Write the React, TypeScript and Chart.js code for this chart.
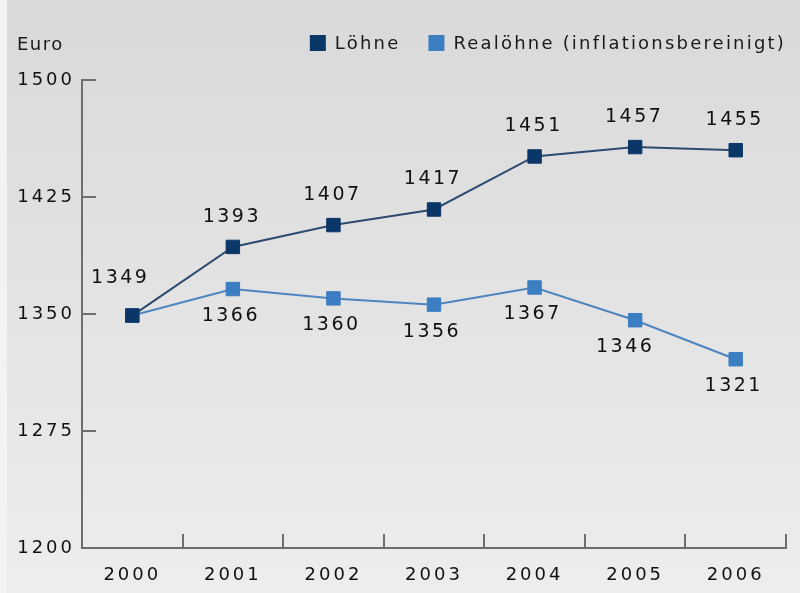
import React, { useEffect, useRef } from 'react';
import { Chart, registerables } from 'chart.js';

Chart.register(...registerables);

const years = ['2000', '2001', '2002', '2003', '2004', '2005', '2006'];
const loehne = [1349, 1393, 1407, 1417, 1451, 1457, 1455];
const realLoehne = [1349, 1366, 1360, 1356, 1367, 1346, 1321];
const yTickValues = [1200, 1275, 1350, 1425, 1500];
const seriesNames = ['Löhne', 'Realöhne (inflationsbereinigt)'];
const unitLabel = 'Euro';

const DARK = '#0b3668';
const LIGHT = '#3c7ec2';
const FONT = '"DejaVu Sans", Verdana, sans-serif';

const spacingPlugin = {
  id: 'spacing',
  beforeLayout(chart: any) { chart.ctx.letterSpacing = '3px'; },
  beforeDraw(chart: any) { chart.ctx.letterSpacing = '3px'; },
};

const bgPlugin = {
  id: 'bg',
  beforeDraw(chart: any) {
    const { ctx, width, height } = chart;
    ctx.save();
    const g = ctx.createLinearGradient(0, 0, 0, height);
    g.addColorStop(0, '#d9d9d9');
    g.addColorStop(1, '#ededed');
    ctx.fillStyle = g;
    ctx.fillRect(0, 0, width, height);
    ctx.fillStyle = '#f3f3f3';
    ctx.fillRect(0, 0, 7, height);
    ctx.restore();
  },
};

const legendPlugin = {
  id: 'customLegend',
  afterDraw(chart: any) {
    const { ctx, chartArea } = chart;
    ctx.save();
    ctx.font = '18px ' + FONT;
    ctx.letterSpacing = '2.2px';
    ctx.textBaseline = 'middle';
    ctx.textAlign = 'left';
    const colors = [DARK, LIGHT];
    const y = 43;
    let x = chartArea.right;
    for (let i = seriesNames.length - 1; i >= 0; i--) {
      const w = ctx.measureText(seriesNames[i]).width;
      x -= w;
      ctx.fillStyle = '#1a1a1a';
      ctx.fillText(seriesNames[i], x, y + 1);
      x -= 9 + 16;
      ctx.fillStyle = colors[i];
      ctx.fillRect(x, y - 8, 16, 16);
      x -= 28;
    }
    ctx.letterSpacing = '1.5px';
    ctx.fillStyle = '#1a1a1a';
    ctx.fillText(unitLabel, 17, 45);
    ctx.restore();
  },
};

const labelOffsets = [
  { dx: -1, dy: -30 },
  { dx: -2, dy: 27 },
];

const dataLabelPlugin = {
  id: 'dataLabels',
  afterDatasetsDraw(chart: any) {
    const { ctx } = chart;
    ctx.save();
    ctx.font = '19px ' + FONT;
    ctx.letterSpacing = '2.5px';
    ctx.fillStyle = '#111';
    ctx.textAlign = 'center';
    ctx.textBaseline = 'middle';
    chart.data.datasets.forEach((ds: any, di: number) => {
      const meta = chart.getDatasetMeta(di);
      meta.data.forEach((pt: any, i: number) => {
        if (di === 1 && i === 0) return;
        let dx = labelOffsets[di].dx;
        let dy = labelOffsets[di].dy;
        if (di === 0 && i === 0) { dx = -12; dy = -37; }
        if (di === 1 && i === 5) { dx = -10; }
        ctx.fillText(String(ds.data[i]), pt.x + dx, pt.y + dy);
      });
    });
    ctx.restore();
  },
};

export default function App() {
  const ref = useRef<HTMLCanvasElement>(null);
  useEffect(() => {
    document.body.style.margin = '0';
    const canvas = ref.current!;
    const tickFont = { family: FONT, size: 18 };
    const chart = new Chart(canvas, {
      type: 'line',
      data: {
        labels: years,
        datasets: [
          {
            label: seriesNames[0],
            data: loehne,
            borderColor: '#2d4b70',
            backgroundColor: DARK,
            pointBackgroundColor: DARK,
            pointBorderColor: DARK,
            borderWidth: 2,
            pointStyle: 'rect',
            pointRadius: 9.5,
            pointBorderWidth: 1,
            tension: 0,
          },
          {
            label: seriesNames[1],
            data: realLoehne,
            borderColor: '#4f85bf',
            backgroundColor: LIGHT,
            pointBackgroundColor: LIGHT,
            pointBorderColor: LIGHT,
            borderWidth: 2,
            pointStyle: 'rect',
            pointRadius: 9.5,
            pointBorderWidth: 1,
            tension: 0,
          },
        ],
      },
      options: {
        animation: false,
        responsive: false,
        devicePixelRatio: 1,
        layout: { padding: { top: 80, right: 14, left: 0, bottom: 0 } },
        plugins: {
          legend: { display: false },
          tooltip: { enabled: false },
          title: { display: false },
        },
        scales: {
          x: {
            offset: true,
            grid: {
              offset: true,
              drawOnChartArea: false,
              drawTicks: true,
              tickLength: -14,
              color: '#6e6e6e',
              lineWidth: 2,
            },
            border: { display: true, color: '#6e6e6e', width: 2 },
            ticks: { color: '#111', font: tickFont, padding: 31, maxRotation: 0 },
            afterFit(s: any) { s.height = 45; },
          },
          y: {
            min: 1200,
            max: 1500,
            afterBuildTicks(s: any) { s.ticks = yTickValues.map((v) => ({ value: v })); },
            grid: {
              drawOnChartArea: false,
              drawTicks: true,
              tickLength: -14,
              color: '#6e6e6e',
              lineWidth: 2,
            },
            border: { display: true, color: '#6e6e6e', width: 2 },
            ticks: {
              color: '#111',
              font: tickFont,
              padding: 21,
              callback: (v: any) => String(v),
            },
            afterFit(s: any) { s.width = 82; },
          },
        },
      },
      plugins: [spacingPlugin, bgPlugin, dataLabelPlugin, legendPlugin],
    } as any);
    return () => chart.destroy();
  }, []);
  return <canvas ref={ref} width={800} height={593} style={{ display: 'block' }} />;
}
